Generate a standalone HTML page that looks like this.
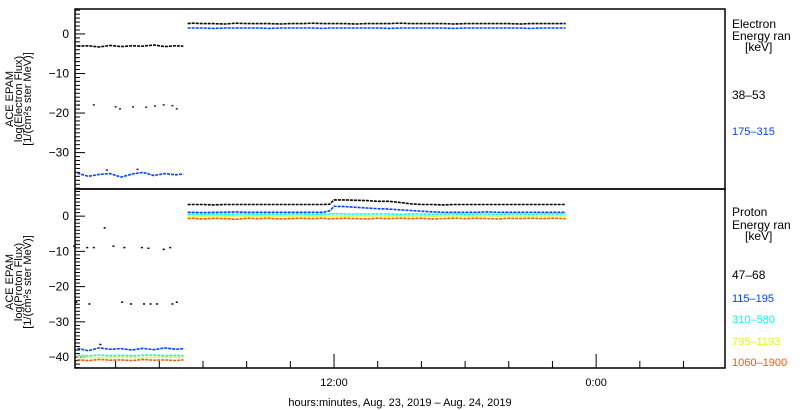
<!DOCTYPE html>
<html><head><meta charset="utf-8">
<style>
body{margin:0;background:#fff;}
svg{display:block;font-family:"Liberation Sans",sans-serif;}
</style></head>
<body>
<svg id="chart" width="800" height="410" viewBox="0 0 800 410" xmlns="http://www.w3.org/2000/svg">
<rect x="0" y="0" width="800" height="410" fill="#fff"/>
<g id="axes"></g>
<g id="marks"></g>
<text transform="translate(13,99) rotate(-90)" text-anchor="middle" font-size="11">ACE EPAM</text>
<text transform="translate(22,99) rotate(-90)" text-anchor="middle" font-size="11">log(Electron Flux)</text>
<text transform="translate(31,99) rotate(-90)" text-anchor="middle" font-size="11">[1/(cm²s ster MeV)]</text>
<text transform="translate(13,282) rotate(-90)" text-anchor="middle" font-size="11">ACE EPAM</text>
<text transform="translate(22,282) rotate(-90)" text-anchor="middle" font-size="11">log(Proton Flux)</text>
<text transform="translate(31,282) rotate(-90)" text-anchor="middle" font-size="11">[1/(cm²s ster MeV)]</text>
<g font-size="12">
<text x="732" y="28">Electron</text>
<text x="732" y="40">Energy ran</text>
<text x="745" y="51">[keV]</text>
<text x="732" y="99">38–53</text>
<text x="732" y="135" fill="#0044ff" font-size="11">175–315</text>
</g>
<g font-size="12">
<text x="732" y="216">Proton</text>
<text x="732" y="229">Energy ran</text>
<text x="745" y="240">[keV]</text>
<text x="732" y="279">47–68</text>
<text x="732" y="302" fill="#0044ff" font-size="11">115–195</text>
<text x="732" y="323" fill="#00ffee" font-size="11">310–580</text>
<text x="732" y="345" fill="#ddff00" font-size="11">795–1193</text>
<text x="732" y="366" fill="#ff5500" font-size="11">1060–1900</text>
</g>
<text x="400" y="406" text-anchor="middle" font-size="11">hours:minutes, Aug. 23, 2019 – Aug. 24, 2019</text>
</svg>
<script>
// time axis (hours from Aug 23 00:00)
const earlyTimes=[0.25,0.75,1.25,1.75,2.25,2.75,3.25,3.75,4.25,4.75,5.1];
const lateTimes=[5.3,5.5,6.0,6.5,7.0,7.5,8.0,8.5,9.0,9.5,10.0,10.5,11.0,11.5,11.8,12.0,12.5,13.0,13.5,14.0,14.5,15.0,15.5,16.0,16.5,17.0,17.5,18.0,18.5,19.0,19.5,20.0,20.5,21.0,21.5,22.0,22.6];
// electron series
const e38Early=[-3.1,-3.0,-3.3,-2.9,-3.2,-3.0,-3.1,-2.8,-3.2,-3.0,-3.1];
const e175Early=[-35.2,-36.0,-35.5,-35.3,-36.2,-35.4,-35.0,-35.8,-35.3,-35.6,-35.4];
const e38Late=[2.6,2.7,2.6,2.6,2.5,2.7,2.6,2.6,2.6,2.5,2.6,2.6,2.7,2.6,2.6,2.6,2.6,2.5,2.6,2.6,2.6,2.7,2.6,2.6,2.6,2.6,2.5,2.6,2.6,2.6,2.6,2.6,2.5,2.6,2.6,2.6,2.6];
const e175Late=[1.5,1.5,1.5,1.4,1.5,1.5,1.5,1.5,1.4,1.5,1.5,1.5,1.5,1.4,1.5,1.5,1.5,1.5,1.5,1.5,1.4,1.5,1.5,1.5,1.5,1.5,1.4,1.5,1.5,1.5,1.5,1.5,1.5,1.4,1.5,1.5,1.5];
const eScatterTimes=[0.3,1.0,2.0,2.2,2.8,3.4,3.8,4.2,4.6,4.8,1.6,3.0];
const eScatterVals=[-18,-18,-18.5,-19,-18.5,-18.6,-18.3,-18,-18.2,-19,-34.5,-34.3];
// proton series
const p47Late=[3.3,3.3,3.3,3.2,3.3,3.3,3.3,3.3,3.3,3.3,3.3,3.3,3.3,3.3,3.4,4.6,4.6,4.5,4.4,4.2,4.2,3.9,3.5,3.3,3.3,3.2,3.3,3.3,3.3,3.3,3.3,3.3,3.3,3.3,3.3,3.3,3.3];
const p115Late=[1.1,1.1,1.0,1.1,1.1,1.2,1.1,1.1,1.1,1.1,1.1,1.1,1.1,1.1,1.5,2.8,2.7,2.5,2.3,2.1,2.0,1.8,1.6,1.4,1.2,1.1,1.1,1.1,1.1,1.2,1.1,1.1,1.1,1.1,1.1,1.1,1.1];
const p310Late=[0.5,0.6,0.5,0.6,0.5,0.6,0.6,0.5,0.6,0.5,0.6,0.6,0.5,0.6,0.6,0.7,0.6,0.6,0.6,0.6,0.6,0.5,0.6,0.6,0.5,0.6,0.6,0.5,0.6,0.6,0.5,0.6,0.6,0.5,0.6,0.6,0.6];
const p795Late=[0.0,0.1,0.0,0.1,0.0,0.1,0.0,0.1,0.0,0.1,0.0,0.1,0.0,0.1,0.0,0.1,0.0,0.1,0.0,0.1,0.0,0.1,0.0,0.1,0.0,0.1,0.0,0.1,0.0,0.1,0.0,0.1,0.0,0.1,0.0,0.1,0.0];
const p1060Late=[-0.7,-0.6,-0.8,-0.6,-0.7,-0.9,-0.6,-0.7,-0.6,-0.8,-0.7,-0.6,-0.7,-0.6,-0.8,-0.7,-0.6,-0.7,-0.8,-0.6,-0.7,-0.6,-0.7,-0.6,-0.8,-0.7,-0.6,-0.7,-0.6,-0.7,-0.8,-0.6,-0.7,-0.6,-0.7,-0.6,-0.7];
const p115Early=[-37.5,-38.2,-37.4,-37.8,-37.6,-38.0,-37.5,-37.9,-37.4,-37.8,-37.6];
const p310Early=[-39.5,-39.6,-39.4,-39.6,-39.5,-39.6,-39.5,-39.4,-39.6,-39.5,-39.6];
const p795Early=[-40.1,-40.0,-40.2,-40.1,-40.0,-40.1,-40.2,-40.0,-40.1,-40.0,-40.1];
const p1060Early=[-40.8,-41.0,-40.7,-40.9,-40.8,-41.0,-40.7,-40.9,-40.8,-41.0,-40.8];
const pScatterTimes=[0.1,0.7,1.0,1.5,1.9,2.4,3.2,3.5,4.5,4.2,0.2,0.8,2.3,2.7,3.3,3.6,3.9,4.6,4.8,1.3];
const pScatterVals=[-8.6,-9,-9,-3.4,-8.6,-9,-9,-9.2,-9,-9.5,-24.5,-25,-24.5,-25,-25,-25,-25,-25,-24.5,-36.5];
const yTicksE=[0,-10,-20,-30];
const yTicksP=[0,-10,-20,-30,-40];
const xLabelHours=[12,24];
const xLabels=["12:00","0:00"];

const NS="http://www.w3.org/2000/svg";
const X0=75,X1=725,T0=0.14,T1=29.9;
const xs=t=>X0+(t-T0)/(T1-T0)*(X1-X0);
const panels={e:{top:9,bot:189,max:6.3,min:-39.2},p:{top:189,bot:368,max:7.7,min:-43.1}};
const ys=(p,v)=>p.top+(p.max-v)/(p.max-p.min)*(p.bot-p.top);
const axes=document.getElementById('axes'),marks=document.getElementById('marks');
function mk(tag,attrs,parent){const el=document.createElementNS(NS,tag);for(const k in attrs)el.setAttribute(k,attrs[k]);parent.appendChild(el);return el;}

function drawPanel(p,ticks,name){
  const r=mk('rect',{x:X0,y:p.top,width:X1-X0,height:p.bot-p.top,fill:'none',stroke:'#000','stroke-width':1.5},axes);
  
  
  for(let v=Math.ceil(p.min);v<=Math.floor(p.max);v++){
    const y=ys(p,v);const major=(v%10===0);
    const l=mk('line',{x1:X0,x2:X0+(major?10:5),y1:y,y2:y,stroke:'#000','stroke-width':1},axes);
    
    
  }
  ticks.forEach(v=>{
    const t=mk('text',{x:X0-6,y:ys(p,v)+4,'text-anchor':'end','font-size':12},axes);
    t.textContent=(v<0?'−':'')+Math.abs(v);
    
    
  });
}
drawPanel(panels.e,yTicksE,'electron');
drawPanel(panels.p,yTicksP,'proton');
for(let h=2;h<=28;h+=2){
  const x=xs(h);const major=(h%12===0);
  const l=mk('line',{x1:x,x2:x,y1:368,y2:368-(major?14:7),stroke:'#000','stroke-width':1},axes);
  
  
}
xLabelHours.forEach((h,i)=>{
  const t=mk('text',{x:xs(h),y:386,'text-anchor':'middle','font-size':11},axes);
  t.textContent=xLabels[i];
  
  
});

function line(p,times,vals,color,name){
  const pts=times.map((t,i)=>xs(t).toFixed(1)+','+ys(p,vals[i]).toFixed(1)).join(' ');
  const pl=mk('polyline',{points:pts,fill:'none',stroke:color,'stroke-width':1.6,'stroke-dasharray':'3 1'},marks);
  
  
}
function scatter(p,times,vals,color,name){
  times.forEach((t,i)=>{
    const r=mk('rect',{x:xs(t)-1,y:ys(p,vals[i])-1,width:2,height:1.5,fill:color},marks);
    
    
  });
}
const E=panels.e,P=panels.p;
line(E,earlyTimes,e38Early,'#000','electron-38-53-early');
line(E,earlyTimes,e175Early,'#0044ff','electron-175-315-early');
line(E,lateTimes,e38Late,'#000','electron-38-53');
line(E,lateTimes,e175Late,'#0044ff','electron-175-315');
scatter(E,eScatterTimes,eScatterVals,'#223','electron-scatter-point');
line(P,earlyTimes,p1060Early,'#ff5500','proton-1060-1900-early');
line(P,earlyTimes,p795Early,'#ddff00','proton-795-1193-early');
line(P,earlyTimes,p310Early,'#00ffee','proton-310-580-early');
line(P,earlyTimes,p115Early,'#0044ff','proton-115-195-early');
line(P,lateTimes,p1060Late,'#ff5500','proton-1060-1900');
line(P,lateTimes,p795Late,'#ddff00','proton-795-1193');
line(P,lateTimes,p310Late,'#00ffee','proton-310-580');
line(P,lateTimes,p115Late,'#0044ff','proton-115-195');
line(P,lateTimes,p47Late,'#000','proton-47-68');
scatter(P,pScatterTimes,pScatterVals,'#000','proton-scatter-point');
</script>
</body></html>
